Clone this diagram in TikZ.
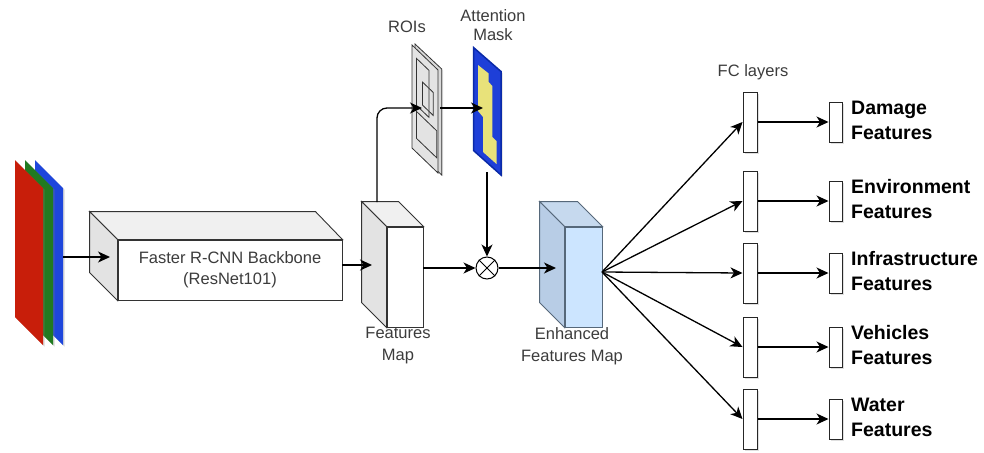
\documentclass[tikz,border=0pt]{standalone}
\usepackage{fontspec}
\setmainfont{Liberation Sans}
\usetikzlibrary{arrows.meta,calc,shadows}
\definecolor{rgbred}{HTML}{C81E0A}
\definecolor{rgbgreen}{HTML}{217A21}
\definecolor{rgbblue}{HTML}{1E46DC}
\definecolor{cubeline}{HTML}{333333}
\definecolor{greyside}{HTML}{E3E3E3}
\definecolor{greytop}{HTML}{F0F0F0}
\definecolor{blueside}{HTML}{B8CDE6}
\definecolor{bluetop}{HTML}{C6D9EE}
\definecolor{bluefront}{HTML}{CCE5FF}
\definecolor{blueline}{HTML}{56687A}
\definecolor{txtgray}{HTML}{3C3C3C}
\definecolor{maskblue}{HTML}{1E3FD8}
\definecolor{maskline}{HTML}{0A2AA8}
\definecolor{maskyellow}{HTML}{E8E27A}
\begin{document}
\begin{tikzpicture}[x=1pt,y=-1pt,
  arr/.style={draw=black, line width=1.3pt, -{Stealth[length=12pt,width=11pt,inset=3.5pt]}},
  cube/.style={draw=cubeline, line width=0.9pt},
  lbl/.style={font=\fontsize{16.5}{22}\selectfont, text=txtgray, align=center, inner sep=0},
  big/.style={font=\fontsize{19.5}{25}\selectfont\bfseries, text=black, align=left, anchor=west, inner sep=0},
  fcbox/.style={draw=black!85, fill=white, minimum width=14pt, minimum height=60pt, inner sep=0, line width=1pt,
     drop shadow={shadow xshift=1.5pt, shadow yshift=-1.5pt, opacity=0.25}},
  outbox/.style={draw=black!85, fill=white, minimum width=13pt, minimum height=40pt, inner sep=0, line width=1pt,
     drop shadow={shadow xshift=1.5pt, shadow yshift=-1.5pt, opacity=0.25}},
  plane/.style={drop shadow={shadow xshift=1.5pt, shadow yshift=-1.5pt, opacity=0.3}}
]
\useasboundingbox (0,0) rectangle (984,452);

% RGB input planes
\fill[rgbblue, plane] (35,160) -- ++(28,28) -- ++(0,157) -- ++(-28,-28) -- cycle;
\fill[rgbgreen, plane] (25,160) -- ++(28,28) -- ++(0,157) -- ++(-28,-28) -- cycle;
\fill[rgbred, plane] (15,160) -- ++(28,28) -- ++(0,157) -- ++(-28,-28) -- cycle;
\coordinate (rgb) at (63,257);

% Backbone cuboid
\node[cube, fill=white, minimum width=224pt, minimum height=60pt, inner sep=0,
      font=\fontsize{16.5}{21}\selectfont, text=txtgray, align=center] (bb) at (230,270)
      {Faster R-CNN Backbone\\(ResNet101)};
\filldraw[cube, fill=greytop] (bb.north west) -- ++(-28,-28) -- ($(bb.north east)+(-27,-28)$) -- (bb.north east) -- cycle;
\filldraw[cube, fill=greyside] (bb.north west) -- ++(-28,-28) -- ($(bb.south west)+(-28,-28)$) -- (bb.south west) -- cycle;
\coordinate (bbin) at (110,257);

% Features map cuboid
\node[cube, fill=white, minimum width=36pt, minimum height=100pt, inner sep=0] (fm) at (405,277) {};
\filldraw[cube, fill=greytop] (fm.north west) -- ++(-25,-25) -- ($(fm.north east)+(-25,-25)$) -- (fm.north east) -- cycle;
\filldraw[cube, fill=greyside] (fm.north west) -- ++(-25,-25) -- ($(fm.south west)+(-25,-25)$) -- (fm.south west) -- cycle;
\coordinate (fmin) at (372,265);
\coordinate (fmtop) at (377,202);
\node[lbl] (fmlbl) at (398,346) {Features\\Map};

% Enhanced features map cuboid
\node[draw=blueline, line width=0.9pt, fill=bluefront, minimum width=37pt, minimum height=100pt, inner sep=0] (em) at (583.5,277) {};
\filldraw[draw=blueline, line width=0.9pt, fill=bluetop] (em.north west) -- ++(-25,-25) -- ($(em.north east)+(-25,-25)$) -- (em.north east) -- cycle;
\filldraw[draw=blueline, line width=0.9pt, fill=blueside] (em.north west) -- ++(-25,-25) -- ($(em.south west)+(-25,-25)$) -- (em.south west) -- cycle;
\coordinate (emin) at (556,268);
\coordinate (emout) at (602,272);
\node[lbl] (emlbl) at (572,346) {Enhanced\\Features Map};

% ROIs plate
\filldraw[draw=cubeline, line width=0.8pt, fill=black!15,
  drop shadow={shadow xshift=1.5pt, shadow yshift=-1.5pt, opacity=0.25}]
  (415,44) -- (441.7,69) -- (441.7,175) -- (415,150) -- cycle;
\filldraw[draw=cubeline, line width=0.8pt, fill=greyside] (412,45) -- (438,70) -- (438,173) -- (412,148) -- cycle;
\draw[cubeline, line width=0.8pt] (416.4,58.3) -- (428.9,70.3) -- (428.9,117.3) -- (416.4,105.3) -- cycle;
\draw[cubeline, line width=0.8pt] (422.4,82) -- (433.3,92.5) -- (433.3,115.5) -- (422.4,105) -- cycle;
\draw[cubeline, line width=0.8pt] (416.4,111.3) -- (436.7,130.8) -- (436.7,157.8) -- (416.4,138.3) -- cycle;
\coordinate (roiin) at (422,108);
\coordinate (roiout) at (440,108);
\node[lbl] (roilbl) at (407,27) {ROIs};

% Attention mask
\filldraw[draw=maskline, line width=1.5pt, fill=maskblue,
  drop shadow={shadow xshift=1.5pt, shadow yshift=-1.5pt, opacity=0.3}]
  (473.5,47.5) -- (501,71.5) -- (501,175) -- (473.5,150.5) -- cycle;
\fill[maskyellow] (478,65) -- (488.7,73.5) -- (488.7,82) -- (492.3,86) -- (492.3,137) -- (496.5,141)
  -- (496.5,164) -- (483,152) -- (483,117) -- (478,111) -- cycle;
\coordinate (attin) at (483,108);
\coordinate (attout) at (487,172);
\node[lbl, font=\fontsize{16.5}{19}\selectfont] (attlbl) at (493,25.5) {Attention\\Mask};

% Multiplication
\node[circle, draw=black, fill=white, line width=1pt, minimum size=22pt, inner sep=0] (mul) at (487,268) {};
\draw[line width=1pt] (mul.north west) -- (mul.south east) (mul.north east) -- (mul.south west);

% Connectors (left part)
\draw[arr] (rgb) -- (bbin);
\draw[arr] ([yshift=5pt]bb.east) -- (fmin);
\draw[arr, rounded corners=10pt] (fmtop) |- (roiin);
\draw[arr] (roiout) -- (attin);
\draw[arr] (attout) -- (mul.north);
\draw[arr] (fm.east |- mul.west) -- (mul.west);
\draw[arr] (mul.east) -- (emin);

% FC layers and outputs
\node[lbl] (fclbl) at (753,72) {FC layers};
\foreach \i/\y/\t in {1/122/Damage, 2/201/Environment, 3/273/Infrastructure, 4/347/Vehicles, 5/419/Water}{
  \node[fcbox] (fc\i) at (750,\y) {};
  \node[outbox] (o\i) at (835.5,\y) {};
  \node[big] (t\i) at (851,\y-1.5) {\t\\Features};
  \draw[arr] (emout) -- (fc\i.west);
  \draw[arr] (fc\i.east) -- (o\i.west);
}
\end{tikzpicture}
\end{document}
